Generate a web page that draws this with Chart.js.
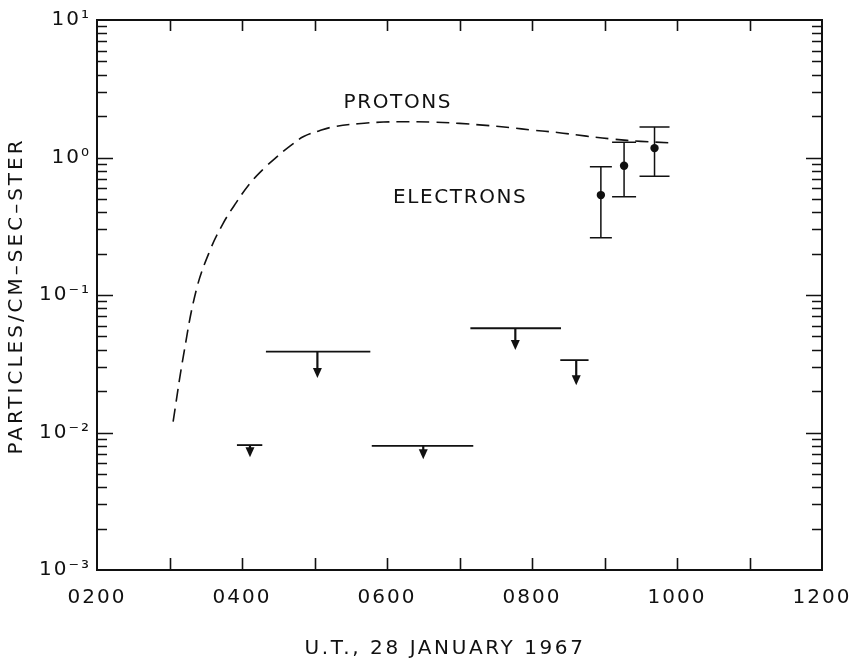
<!DOCTYPE html>
<html>
<head>
<meta charset="utf-8">
<script src="https://cdn.jsdelivr.net/npm/chart.js@4/dist/chart.umd.min.js"></script>
<style>
html,body{margin:0;padding:0;background:#fff;}
#wrap{width:855px;height:664px;}
</style>
</head>
<body>
<div id="wrap"><canvas id="c" width="855" height="664"></canvas></div>
<script>
// ---- data ----
const xTickValues = [200, 400, 600, 800, 1000, 1200];
const xTickLabels = ['0200', '0400', '0600', '0800', '1000', '1200'];
const yTickValues = [0.001, 0.01, 0.1, 1, 10];
const yTickLabels = ['10\u207B\u00B3', '10\u207B\u00B2', '10\u207B\u00B9', '10\u2070', '10\u00B9'];

// Proton flux (dashed curve), time in UT hours*100
const protonTime = [305, 319, 337, 356, 374, 392, 411, 430, 448, 467, 485, 506, 526, 560, 595, 630, 663, 700, 732, 770, 801, 835, 875, 912, 950, 990];
const protonFlux = [0.012, 0.0356, 0.109, 0.212, 0.332, 0.47, 0.649, 0.83, 1.01, 1.22, 1.42, 1.56, 1.67, 1.76, 1.81, 1.82, 1.81, 1.77, 1.72, 1.65, 1.58, 1.52, 1.43, 1.36, 1.31, 1.28];

// Electron measurements with error bars
const electronTime = [895, 927, 969];
const electronFlux = [0.533, 0.87, 1.17];
const electronLow  = [0.261, 0.519, 0.73];
const electronHigh = [0.857, 1.29, 1.67];

// Electron upper limits (interval start/end, arrow time, limit value, arrow tip)
const limitStart   = [393, 433, 579, 715, 839];
const limitEnd     = [428, 577, 719, 840, 878];
const limitTime    = [411, 504, 650, 777, 861];
const limitFlux    = [0.0081, 0.0387, 0.008, 0.0573, 0.0336];
const limitArrowTo = [0.0066, 0.0249, 0.0064, 0.0398, 0.0221];

// Text labels
const xTitle = 'U.T., 28 JANUARY 1967';
const yTitle = 'PARTICLES/CM\u2013SEC\u2013STER';
const curveLabels = ['PROTONS', 'ELECTRONS'];
const curveLabelTime = [615, 701];
const curveLabelFlux = [2.49, 0.507];

// ---- styling ----
const INK = '#111';
const FONT = '"DejaVu Sans", "Liberation Sans", sans-serif';

const figurePlugin = {
  id: 'figure',
  beforeDraw(chart) {
    chart.ctx.letterSpacing = '2px';
  },
  afterDatasetsDraw(chart) {
    const { ctx, scales: { x, y } } = chart;
    ctx.save();
    ctx.strokeStyle = INK;
    ctx.fillStyle = INK;
    ctx.lineWidth = 1.5;
    // error bars
    const caps = [11, 12, 15];
    for (let i = 0; i < electronTime.length; i++) {
      const cap = caps[i % caps.length];
      const px = x.getPixelForValue(electronTime[i]);
      const yl = y.getPixelForValue(electronLow[i]);
      const yh = y.getPixelForValue(electronHigh[i]);
      ctx.beginPath();
      ctx.moveTo(px, yl); ctx.lineTo(px, yh);
      ctx.moveTo(px - cap, yl); ctx.lineTo(px + cap, yl);
      ctx.moveTo(px - cap, yh); ctx.lineTo(px + cap, yh);
      ctx.stroke();
    }
    // upper limits
    for (let i = 0; i < limitTime.length; i++) {
      const x0 = x.getPixelForValue(limitStart[i]);
      const x1 = x.getPixelForValue(limitEnd[i]);
      const xa = x.getPixelForValue(limitTime[i]);
      const yv = y.getPixelForValue(limitFlux[i]);
      const yt = y.getPixelForValue(limitArrowTo[i]);
      ctx.lineWidth = 1.8;
      ctx.beginPath();
      ctx.moveTo(x0, yv); ctx.lineTo(x1, yv);
      ctx.stroke();
      ctx.lineWidth = 2.2;
      ctx.beginPath();
      ctx.moveTo(xa, yv); ctx.lineTo(xa, yt - 8);
      ctx.stroke();
      ctx.beginPath();
      ctx.moveTo(xa - 4.5, yt - 10);
      ctx.lineTo(xa + 4.5, yt - 10);
      ctx.lineTo(xa, yt);
      ctx.closePath();
      ctx.fill();
    }
    ctx.restore();
  },
  afterDraw(chart) {
    const { ctx, chartArea: a, scales: { x, y } } = chart;
    ctx.save();
    ctx.strokeStyle = INK;
    ctx.lineWidth = 1.6;
    ctx.beginPath();
    // inward x ticks, bottom and top
    for (let v = xTickValues[0] + 100; v < xTickValues[xTickValues.length - 1]; v += 100) {
      const px = Math.round(x.getPixelForValue(v)) + 0.5;
      ctx.moveTo(px, a.bottom); ctx.lineTo(px, a.bottom - 12);
      ctx.moveTo(px, a.top); ctx.lineTo(px, a.top + 11);
    }
    // inward log ticks, left and right
    for (let d = -3; d <= 0; d++) {
      for (let m = 1; m <= 9; m++) {
        if (d === -3 && m === 1) continue;
        const v = m * Math.pow(10, d);
        const py = Math.round(y.getPixelForValue(v)) + 0.5;
        const len = m === 1 ? 16 : 10;
        ctx.moveTo(a.left, py); ctx.lineTo(a.left + len, py);
        ctx.moveTo(a.right, py); ctx.lineTo(a.right - len, py);
      }
    }
    ctx.stroke();

    // titles and curve labels
    ctx.fillStyle = INK;
    ctx.font = '20px ' + FONT;
    ctx.letterSpacing = '2.6px';
    ctx.textAlign = 'center';
    ctx.textBaseline = 'middle';
    ctx.fillText(xTitle, 445, 649);

    ctx.save();
    ctx.translate(17, 296);
    ctx.rotate(-Math.PI / 2);
    ctx.letterSpacing = '3px';
    ctx.fillText(yTitle, 0, 0);
    ctx.restore();

    ctx.letterSpacing = '1.6px';
    for (let i = 0; i < curveLabels.length; i++) {
      ctx.fillText(curveLabels[i], x.getPixelForValue(curveLabelTime[i]), y.getPixelForValue(curveLabelFlux[i]));
    }
    ctx.restore();
  }
};

const borderCfg = { display: true, color: INK, width: 2 };

new Chart(document.getElementById('c'), {
  type: 'line',
  data: {
    datasets: [
      {
        label: 'Protons',
        data: protonTime.map((t, i) => ({ x: t, y: protonFlux[i] })),
        borderColor: INK,
        borderWidth: 1.6,
        borderDash: [13, 7],
        pointRadius: 0,
        tension: 0.4,
        fill: false
      },
      {
        label: 'Electrons',
        data: electronTime.map((t, i) => ({ x: t, y: electronFlux[i] })),
        showLine: false,
        pointRadius: 4.2,
        pointBackgroundColor: INK,
        pointBorderColor: INK,
        pointBorderWidth: 0
      }
    ]
  },
  options: {
    responsive: false,
    animation: false,
    devicePixelRatio: 1,
    layout: { padding: 0 },
    plugins: { legend: { display: false }, tooltip: { enabled: false }, title: { display: false } },
    scales: {
      x: {
        type: 'linear', position: 'bottom',
        min: 200, max: 1200,
        afterBuildTicks: s => { s.ticks = xTickValues.map(v => ({ value: v })); },
        afterFit: s => { s.height = 94; s.paddingLeft = 0; s.paddingRight = 0; },
        grid: { display: false, drawTicks: false },
        border: borderCfg,
        ticks: {
          color: INK, padding: 16,
          font: { family: FONT, size: 20 },
          maxRotation: 0, autoSkip: false,
          callback: v => { const k = xTickValues.indexOf(v); return k >= 0 ? xTickLabels[k] : ''; }
        }
      },
      x2: {
        type: 'linear', position: 'top',
        min: 200, max: 1200,
        afterFit: s => { s.height = 20; s.paddingLeft = 0; s.paddingRight = 0; },
        grid: { display: false, drawTicks: false },
        border: borderCfg,
        ticks: { display: false }
      },
      y: {
        type: 'logarithmic', position: 'left',
        min: 0.001, max: 10,
        afterBuildTicks: s => { s.ticks = yTickValues.map(v => ({ value: v, major: true })); },
        afterFit: s => { s.width = 97; s.paddingTop = 0; s.paddingBottom = 0; },
        grid: { display: false, drawTicks: false },
        border: borderCfg,
        ticks: {
          color: INK, padding: 6,
          font: { family: FONT, size: 20 },
          autoSkip: false,
          callback: v => { const k = yTickValues.findIndex(t => Math.abs(t - v) / t < 1e-6); return k >= 0 ? yTickLabels[k] : ''; }
        }
      },
      y2: {
        type: 'logarithmic', position: 'right',
        min: 0.001, max: 10,
        afterFit: s => { s.width = 33; s.paddingTop = 0; s.paddingBottom = 0; },
        grid: { display: false, drawTicks: false },
        border: borderCfg,
        ticks: { display: false }
      }
    }
  },
  plugins: [figurePlugin]
});
</script>
</body>
</html>
